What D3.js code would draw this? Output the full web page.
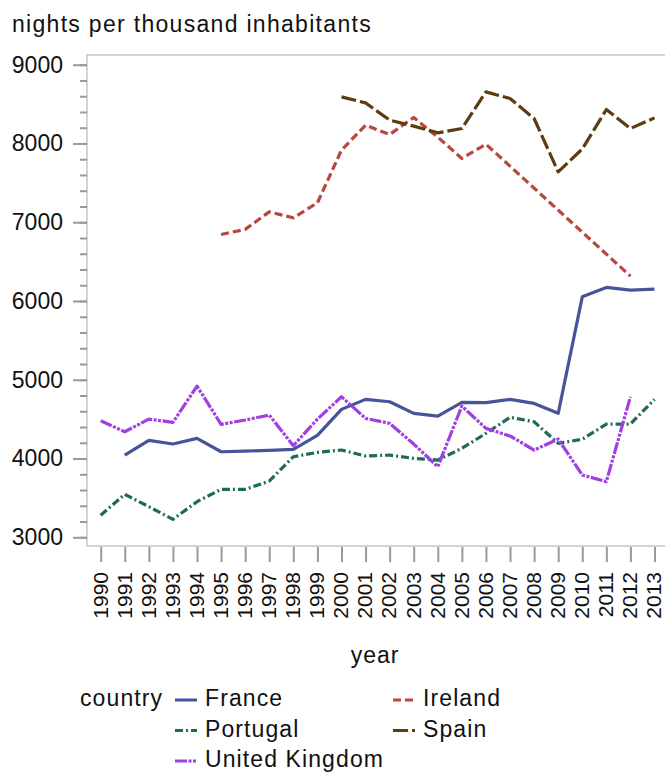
<!DOCTYPE html>
<html>
<head>
<meta charset="utf-8">
<script src="https://cdn.jsdelivr.net/npm/d3@7"></script>
<style>
  body { margin: 0; background: #fff; }
  text { font-family: "Liberation Sans", Arial, sans-serif; fill: #111; }
</style>
</head>
<body>
<svg width="665" height="773"></svg>
<script>
// years on the x axis
var years = [1990, 1991, 1992, 1993, 1994, 1995, 1996, 1997, 1998, 1999, 2000, 2001,
             2002, 2003, 2004, 2005, 2006, 2007, 2008, 2009, 2010, 2011, 2012, 2013];

// nights per thousand inhabitants, null = no value
var france   = [null, 4044, 4231, 4184, 4256, 4086, 4095, 4104, 4117, 4294, 4624, 4751,
                4721, 4574, 4539, 4713, 4710, 4751, 4700, 4574, 6053, 6172, 6138, 6151];
var ireland  = [null, null, null, null, null, 6845, 6909, 7132, 7056, 7246, 7915, 8232,
                8114, 8330, 8080, 7810, 7991, null, null, null, null, null, 6316, null];
var portugal = [3279, 3546, 3389, 3228, 3452, 3609, 3609, 3714, 4023, 4078, 4108, 4032,
                4044, 4002, 3981, 4129, 4320, 4523, 4467, 4193, 4244, 4438, 4438, 4751];
var spain    = [null, null, null, null, null, null, null, null, null, null, 8591, 8515,
                8296, 8220, 8135, 8190, 8655, 8571, 8317, 7640, 7930, 8431, 8190, 8325];
var uk       = [4480, 4340, 4501, 4459, 4920, 4434, 4489, 4552, 4163, 4500, 4784, 4510,
                4447, 4184, 3896, 4666, 4383, 4286, 4108, 4247, 3791, 3706, 4784, null];

var yTicks = [3000, 4000, 5000, 6000, 7000, 8000, 9000];

var series = [
  {name: "France", values: france, color: "#46559b", dash: null},
  {name: "Ireland", values: ireland, color: "#b8473e", dash: "8,4"},
  {name: "Portugal", values: portugal, color: "#1d6b5b", dash: "8,3,2,3"},
  {name: "Spain", values: spain, color: "#5c3c10", dash: "15,4"},
  {name: "United Kingdom", values: uk, color: "#a040e0", dash: "12,1.5,3,1.5,3,1.5"}
];

var svg = d3.select("svg");
var plotL = 87, plotR = 667, plotT = 55, plotB = 546;

var x = d3.scalePoint().domain(years).range([100.7, 654.5]);
var y = d3.scaleLinear().domain([3000, 9000]).range([537.3, 64.7]);

// frame
svg.append("path")
  .attr("d", "M" + plotR + "," + plotT + "H" + plotL + "V" + plotB + "H" + plotR)
  .attr("fill", "none").attr("stroke", "#d4d4d4").attr("stroke-width", 2);

// title
svg.append("text").attr("x", 12).attr("y", 32)
  .style("font-size", "23px").style("letter-spacing", "1.3px")
  .text("nights per thousand inhabitants");

// y axis: minor ticks then major ticks with labels
var minor = d3.range(3000, 9001, 200);
var gy2 = svg.append("g").attr("transform", "translate(" + plotL + ",0)")
  .call(d3.axisLeft(y).tickValues(minor).tickSize(7).tickFormat(""));
var gy = svg.append("g").attr("transform", "translate(" + plotL + ",0)")
  .call(d3.axisLeft(y).tickValues(yTicks).tickSize(14).tickPadding(10).tickFormat(d3.format("d")));
[gy, gy2].forEach(function(g) {
  g.select(".domain").remove();
  g.selectAll("line").attr("stroke", "#9a9a9a").attr("stroke-width", 2);
});
gy.selectAll("text").style("font-size", "23px").attr("fill", "#111");

// x axis
var gx = svg.append("g").attr("transform", "translate(0," + (plotB + 1) + ")")
  .call(d3.axisBottom(x).tickSize(15));
gx.select(".domain").remove();
gx.selectAll("line").attr("stroke", "#9a9a9a").attr("stroke-width", 2);
gx.selectAll("text")
  .style("font-size", "21px").attr("fill", "#111")
  .attr("text-anchor", "end")
  .attr("transform", "rotate(-90)")
  .attr("x", -25).attr("y", -1).attr("dy", "0.35em");

svg.append("text").attr("x", (plotL + plotR) / 2 - 2).attr("y", 663)
  .attr("text-anchor", "middle").style("font-size", "23px").style("letter-spacing", "1px")
  .text("year");

// lines
var line = d3.line()
  .x(function(d) { return x(d.year); })
  .y(function(d) { return y(d.value); });

series.forEach(function(s) {
  var pts = years.map(function(yr, i) { return {year: yr, value: s.values[i]}; })
    .filter(function(d) { return d.value != null; });
  svg.append("path").datum(pts)
    .attr("d", line)
    .attr("fill", "none")
    .attr("stroke", s.color)
    .attr("stroke-width", 3.2)
    .attr("stroke-linejoin", "round")
    .attr("stroke-dasharray", s.dash);
});

// legend
svg.append("text").attr("x", 80).attr("y", 706)
  .style("font-size", "23px").style("letter-spacing", "1.1px").text("country");

var legendPos = [
  {col: 0, row: 0}, {col: 1, row: 0}, {col: 0, row: 1}, {col: 1, row: 1}, {col: 0, row: 2}
];
series.forEach(function(s, i) {
  var p = legendPos[i];
  var lx = 175 + p.col * 218, ly = 706 + p.row * 30.5;
  svg.append("line")
    .attr("x1", lx).attr("x2", lx + 22)
    .attr("y1", ly - 6).attr("y2", ly - 6)
    .attr("stroke", s.color).attr("stroke-width", 3)
    .attr("stroke-dasharray", s.dash);
  svg.append("text").attr("x", lx + 30).attr("y", ly)
    .style("font-size", "23px").style("letter-spacing", "1.1px")
    .text(s.name);
});
</script>
</body>
</html>
